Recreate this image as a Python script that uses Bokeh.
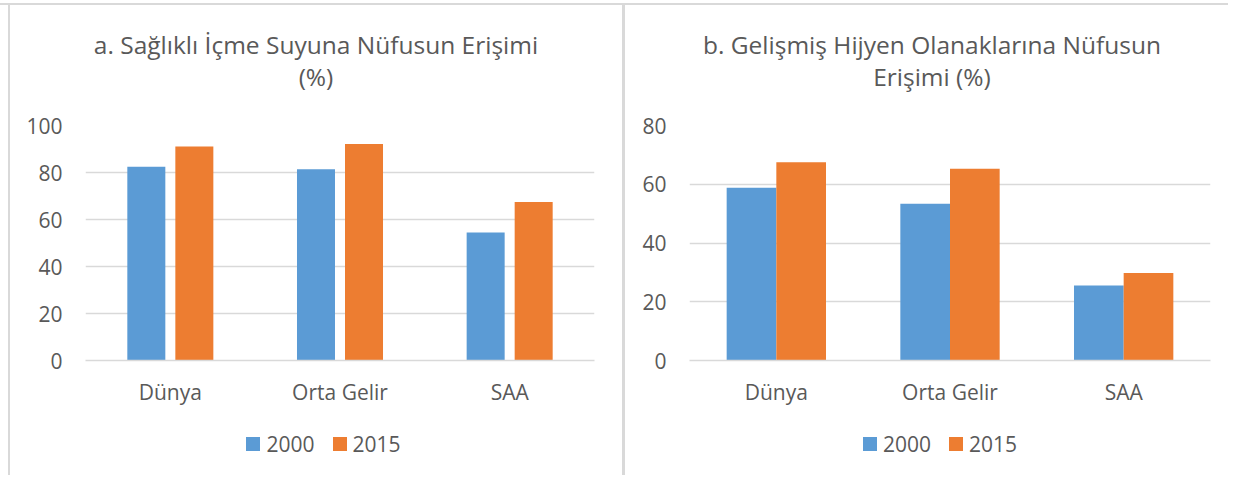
from bokeh.plotting import figure
from bokeh.models import Range1d, FactorRange, Div, FixedTicker
from bokeh.layouts import row, column
from bokeh.transform import dodge
from bokeh.embed import file_html
from bokeh.resources import INLINE

categories = ["Dünya", "Orta Gelir", "SAA"]
years = ["2000", "2015"]
water_2000 = [82.4, 81.4, 54.5]
water_2015 = [91.1, 92.1, 67.5]
sanitation_2000 = [58.8, 53.4, 25.5]
sanitation_2015 = [67.5, 65.3, 29.8]
title_a = ["a. Sağlıklı İçme Suyuna Nüfusun Erişimi", "(%)"]
title_b = ["b. Gelişmiş Hijyen Olanaklarına Nüfusun", "Erişimi (%)"]
ticks_a = [0, 20, 40, 60, 80, 100]
ticks_b = [0, 20, 40, 60, 80]

BLUE = "#5B9BD5"
ORANGE = "#ED7D31"
COLORS = [BLUE, ORANGE]
GRID = "#D9D9D9"
TEXT = "#595959"
FONT = "Open Sans"
H = 470
TH = 100   # title block height
FH = 305   # figure height
LH = 60    # legend block height


def title_div(width, lines, pad_left):
    html = "<br>".join(lines)
    return Div(text=html, width=width, height=TH, margin=0,
               styles={"font-family": FONT, "font-size": "24.5px", "line-height": "32px",
                       "color": TEXT, "text-align": "center", "padding-top": "24px",
                       "padding-left": f"{pad_left}px", "box-sizing": "border-box",
                       "width": f"{width}px"})


def legend_div(width, pad_left):
    parts = []
    for i, (yr, c) in enumerate(zip(years, COLORS)):
        ml = 0 if i == 0 else 18
        parts.append(
            f'<span style="display:inline-block;width:14px;height:14px;background:{c};'
            f'margin-left:{ml}px;margin-right:6px"></span>'
            f'<span style="font-family:\'{FONT}\';font-size:21px;color:{TEXT}">{yr}</span>')
    inner_w = width - pad_left
    html = (f'<div style="display:flex;align-items:center;justify-content:center;'
            f'height:28px;width:{inner_w}px">' + "".join(parts) + "</div>")
    return Div(text=html, width=width, height=LH, margin=0,
               styles={"padding-top": "20px", "padding-left": f"{pad_left}px",
                       "box-sizing": "border-box", "width": f"{width}px"})


def panel(width, bl, br, y_end, ticks, v1, v2, bw, off):
    p = figure(width=width, height=FH, x_range=FactorRange(*categories, range_padding=0),
               y_range=Range1d(0, y_end), output_backend="svg", toolbar_location=None,
               min_border_left=bl, min_border_right=br, min_border_top=20, min_border_bottom=50)
    p.outline_line_color = None
    p.xgrid.grid_line_color = None
    p.ygrid.grid_line_color = GRID
    p.ygrid.grid_line_width = 1.5
    p.yaxis.ticker = FixedTicker(ticks=ticks)
    for ax in (p.xaxis, p.yaxis):
        ax.axis_line_color = None
        ax.major_tick_line_color = None
        ax.minor_tick_line_color = None
        ax.major_tick_out = 0
        ax.major_tick_in = 0
        ax.major_label_text_font = FONT
        ax.major_label_text_font_size = "21px"
        ax.major_label_text_color = TEXT
    p.yaxis.major_label_standoff = 23
    p.xaxis.major_label_standoff = 17
    p.xaxis.axis_line_color = GRID
    p.xaxis.axis_line_width = 1.5
    src = dict(cat=categories, a=v1, b=v2)
    p.vbar(x=dodge("cat", -off, range=p.x_range), top="a", width=bw, source=src,
           fill_color=BLUE, line_color=None)
    p.vbar(x=dodge("cat", off, range=p.x_range), top="b", width=bw, source=src,
           fill_color=ORANGE, line_color=None)
    return p


p1 = panel(612, 75, 28, 100, ticks_a, water_2000, water_2015, 0.224, 0.1415)
p2 = panel(608, 64, 23, 80, ticks_b, sanitation_2000, sanitation_2015, 0.286, 0.143)

left = column(title_div(612, title_a, 0), p1, legend_div(612, 15))
right = column(title_div(608, title_b, 6), p2, legend_div(608, 22))

gap_top = Div(width=1228, height=3, margin=0)
top_line = Div(width=1228, height=2, margin=0, styles={"background-color": GRID})
gap_left = Div(width=8, height=H, margin=0)
vl = Div(width=2, height=H, margin=0, styles={"background-color": GRID})
vm = Div(width=3, height=H, margin=0, styles={"background-color": GRID})
layout = column(gap_top, top_line, row(gap_left, vl, left, vm, right))
open("out.html", "w").write(file_html(layout, INLINE))
